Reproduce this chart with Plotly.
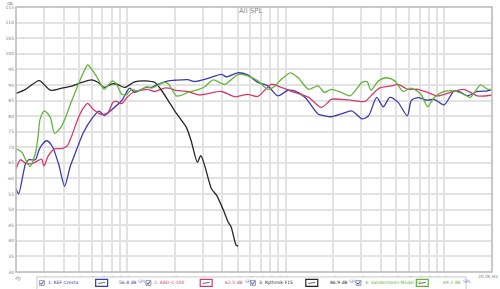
import plotly.graph_objects as go

# ---------------- data ----------------
kef_f = [20, 20.8, 22.9, 24, 26.5, 27.8, 29.1, 31.2, 33.7, 37.1, 40.5, 43.8, 48.4, 53.3, 60, 66.6, 72, 80, 92.8,
         104, 112, 122, 133, 143, 157, 182, 200, 242, 267, 324, 394, 424, 500, 577, 669, 773, 894, 1035, 1141,
         1329, 1601, 1761, 1937, 2245, 2611, 3036, 3336, 3750, 4130, 4537, 5120, 5855, 6200, 6810, 7860, 8640,
         9990, 11550, 12720, 13980, 16200, 18800, 20000]
kef_db = [56.7, 55.1, 64.5, 66.0, 66.0, 68.9, 70.8, 72.1, 70.5, 64.7, 57.5, 63.6, 69.5, 74.8, 79.1, 81.6, 80.2,
          82.0, 85.0, 89.0, 87.6, 88.4, 89.3, 89.2, 90.2, 91.3, 91.5, 91.7, 91.1, 92.1, 93.4, 92.6, 93.9, 93.2,
          90.8, 89.7, 86.5, 88.3, 88.1, 86.0, 80.7, 80.1, 79.8, 80.7, 81.7, 79.1, 80.1, 86.0, 83.0, 86.0, 84.4,
          80.1, 85.0, 85.9, 85.1, 85.4, 83.6, 88.1, 87.6, 86.5, 87.9, 88.1, 88.6]

aad_f = [20, 21.3, 23, 25, 27, 29, 30, 32, 35, 39, 42, 44, 49.6, 53, 56.6, 61, 69.4, 76, 82, 86, 92.8, 100,
         112, 124, 135, 150, 172, 190, 200, 242, 285, 324, 394, 482, 577, 669, 812, 940, 1141, 1397, 1676,
         1850, 1937, 2483, 3170, 3450, 3900, 4620, 5120, 5900, 6810, 7860, 9090, 10960, 13270, 16200, 20000]
aad_db = [63.0, 66.0, 64.9, 64.7, 65.5, 66.2, 64.0, 67.3, 69.5, 69.6, 70.4, 72.5, 79.6, 82.5, 84.1, 82.3, 80.5,
          81.2, 84.5, 84.7, 84.0, 86.0, 87.9, 88.3, 88.6, 87.9, 89.0, 88.8, 88.3, 87.9, 86.8, 87.2, 87.9, 86.2,
          87.0, 86.3, 90.2, 89.2, 87.6, 86.0, 82.8, 84.4, 85.4, 85.2, 84.7, 86.5, 89.0, 89.7, 90.2, 88.6, 88.6,
          87.6, 86.5, 87.6, 88.6, 86.5, 86.7]

ryt_f = [20, 23, 28, 33, 39, 45, 52, 60, 66, 72, 80, 86, 97, 110, 118, 130, 150, 165, 182, 200, 222, 237,
         254, 278, 292, 309, 341, 368, 406, 434, 455, 488, 503]
ryt_db = [87.3, 88.6, 91.4, 88.3, 89.0, 89.6, 90.8, 91.6, 90.8, 89.2, 90.3, 90.3, 89.2, 90.8, 91.2, 91.3, 90.8,
          88.3, 85.0, 81.7, 78.5, 76.4, 72.1, 65.2, 67.3, 64.2, 56.7, 54.6, 49.8, 46.1, 44.3, 38.6, 38.3]

van_f = [20, 21.8, 23, 24.5, 26.5, 27.5, 28.4, 30.2, 32.9, 35, 38.9, 44.9, 52.6, 56.6, 61, 66, 72, 81, 86,
         92.8, 100, 107, 115, 124, 133, 143, 172, 182, 205, 221, 242, 285, 309, 350, 414, 500, 577, 669, 773,
         848, 940, 1075, 1200, 1397, 1601, 1761, 1937, 2245, 2550, 3036, 3270, 3450, 3850, 4330, 4880, 5510,
         6200, 7140, 7860, 8640, 9990, 11550, 13270, 14600, 16960, 18800, 20000]
van_db = [69.5, 68.4, 66.0, 63.8, 68.0, 73.0, 79.1, 81.7, 79.6, 74.5, 76.9, 84.9, 93.4, 96.4, 94.5, 91.8,
          88.6, 91.3, 90.2, 87.0, 87.0, 88.6, 88.1, 88.6, 89.4, 89.0, 90.8, 90.4, 86.5, 86.7, 87.6, 88.6, 89.4,
          91.6, 90.2, 93.3, 92.9, 91.3, 88.6, 89.4, 91.8, 93.9, 92.3, 88.6, 89.7, 87.6, 88.6, 87.6, 86.5, 90.8,
          91.0, 88.3, 91.3, 92.3, 91.3, 87.9, 89.0, 87.0, 83.0, 86.0, 87.9, 88.1, 87.0, 86.0, 90.0, 88.6, 88.6]

names = ["1: KEF Cresta", "2: AAD C-100", "3: Rythmik F15", "4: Vandersteen Model 1C"]
levels = ["56.8 dB", "62.5 dB", "86.9 dB", "69.2 dB"]
colors = ["#3b3bab", "#d23c6c", "#262626", "#5fb637"]

x_tickvals = [20, 30, 40, 50, 60, 70, 80, 90, 100, 200, 300, 400, 500, 600, 700, 800, 900, 1000,
              2000, 3000, 4000, 5000, 6000, 7000, 8000, 9000, 10000, 20000]
x_ticktext = ["20", "30", "40", "50", "60", "70", "80", "90", "100", "200", "300", "400", "500", "600", "700",
              "800", "900", "1k", "2k", "3k", "4k", "5k", "6k", "7k", "8k", "9k", "10k", ""]
y_tickvals = list(range(30, 120, 5))

# ---------------- layout helpers ----------------
W, H = 500, 289
L, R, T, B = 14, 8, 5, 17
PW, PH = W - L - R, H - T - B


def xp(px):
    return (px - L) / PW


def yp(py):
    return (H - B - py) / PH


fig = go.Figure()
series = [(kef_f, kef_db), (aad_f, aad_db), (ryt_f, ryt_db), (van_f, van_db)]
for (f, d), c, n in zip(series, colors, names):
    fig.add_trace(go.Scatter(x=f, y=d, mode="lines", name=n,
                             line=dict(color=c, width=1.3, shape="spline", smoothing=0.7),
                             showlegend=False, hoverinfo="skip"))

tickfont = dict(family="DejaVu Sans", size=4.5, color="#808080")
fig.update_xaxes(type="log", range=[1.30103, 4.30103], tickvals=x_tickvals, ticktext=x_ticktext,
                 showgrid=True, gridcolor="#e2e2e2", gridwidth=1.5, zeroline=False,
                 tickfont=tickfont, ticks="", ticklen=0, showline=False)
fig.update_yaxes(range=[30, 115], tickvals=y_tickvals, showgrid=True, gridcolor="#e2e2e2", gridwidth=1.5,
                 zeroline=False, tickfont=tickfont, ticks="", showline=False)

shapes = [
    # plot frame
    dict(type="rect", xref="paper", yref="paper", x0=0, x1=1, y0=0, y1=1,
         line=dict(color="#b8b8b8", width=1.5)),
    # legend box
    dict(type="rect", xref="paper", yref="paper", x0=xp(35), x1=xp(466), y0=yp(293), y1=yp(277),
         line=dict(color="#c8c8c8", width=1), fillcolor="white"),
]
annotations = [
    dict(text="All SPL", xref="paper", yref="paper", x=xp(250), y=yp(9.5), showarrow=False,
         font=dict(family="DejaVu Sans", size=7, color="#8c8c8c"), xanchor="center", yanchor="middle"),
    dict(text="dB", xref="paper", yref="paper", x=xp(8), y=yp(1.8), showarrow=False,
         font=dict(family="DejaVu Sans", size=4.5, color="#808080"), xanchor="center", yanchor="middle"),
    dict(text="20.0k Hz", xref="paper", yref="paper", x=xp(500), y=yp(276.5), showarrow=False,
         font=tickfont, xanchor="right", yanchor="middle"),
]

check_x = [40, 147, 252, 358]
icon_x = [100, 205, 311, 422]
val_x = [115, 222, 327, 441]
ly = 283
for i in range(4):
    c = colors[i]
    cx = check_x[i]
    # checkbox with a tick drawn as a path
    shapes.append(dict(type="rect", xref="paper", yref="paper", x0=xp(cx - 2.5), x1=xp(cx + 2.5),
                       y0=yp(ly + 2.5), y1=yp(ly - 2.5), line=dict(color="#8888aa", width=0.8),
                       fillcolor="#eef0ff"))
    shapes.append(dict(type="path", xref="paper", yref="paper",
                       path=f"M {xp(cx - 1.6)} {yp(ly)} L {xp(cx - 0.4)} {yp(ly + 1.4)} L {xp(cx + 1.7)} {yp(ly - 1.6)}",
                       line=dict(color="#334", width=0.8)))
    annotations.append(dict(text=names[i], xref="paper", yref="paper", x=xp(cx + 4), y=yp(ly),
                            showarrow=False, font=dict(family="DejaVu Sans", size=4.5, color=c),
                            xanchor="left", yanchor="middle"))
    # icon (outlined box with a small line inside)
    shapes.append(dict(type="rect", xref="paper", yref="paper", x0=xp(icon_x[i] - 6), x1=xp(icon_x[i] + 6),
                       y0=yp(ly + 3.5), y1=yp(ly - 3.5), line=dict(color=c, width=1.2), fillcolor="white"))
    shapes.append(dict(type="line", xref="paper", yref="paper", x0=xp(icon_x[i] - 3.5), x1=xp(icon_x[i] + 3.5),
                       y0=yp(ly + 0.5), y1=yp(ly - 0.5), line=dict(color="#444", width=0.8)))
    annotations.append(dict(text=levels[i], xref="paper", yref="paper", x=xp(val_x[i]),
                            y=yp(ly), showarrow=False, font=dict(family="DejaVu Sans", size=4.5, color=c),
                            xanchor="left", yanchor="middle"))
    annotations.append(dict(text="SPL", xref="paper", yref="paper", x=xp(val_x[i] + 19.5),
                            y=yp(ly - 1.5), showarrow=False,
                            font=dict(family="DejaVu Sans", size=4.5, color="#7a8ad0"),
                            xanchor="left", yanchor="middle"))

fig.update_layout(width=W, height=H, margin=dict(l=L, r=R, t=T, b=B, pad=1),
                  paper_bgcolor="white", plot_bgcolor="white", shapes=shapes, annotations=annotations)

fig.write_html("out.html")
